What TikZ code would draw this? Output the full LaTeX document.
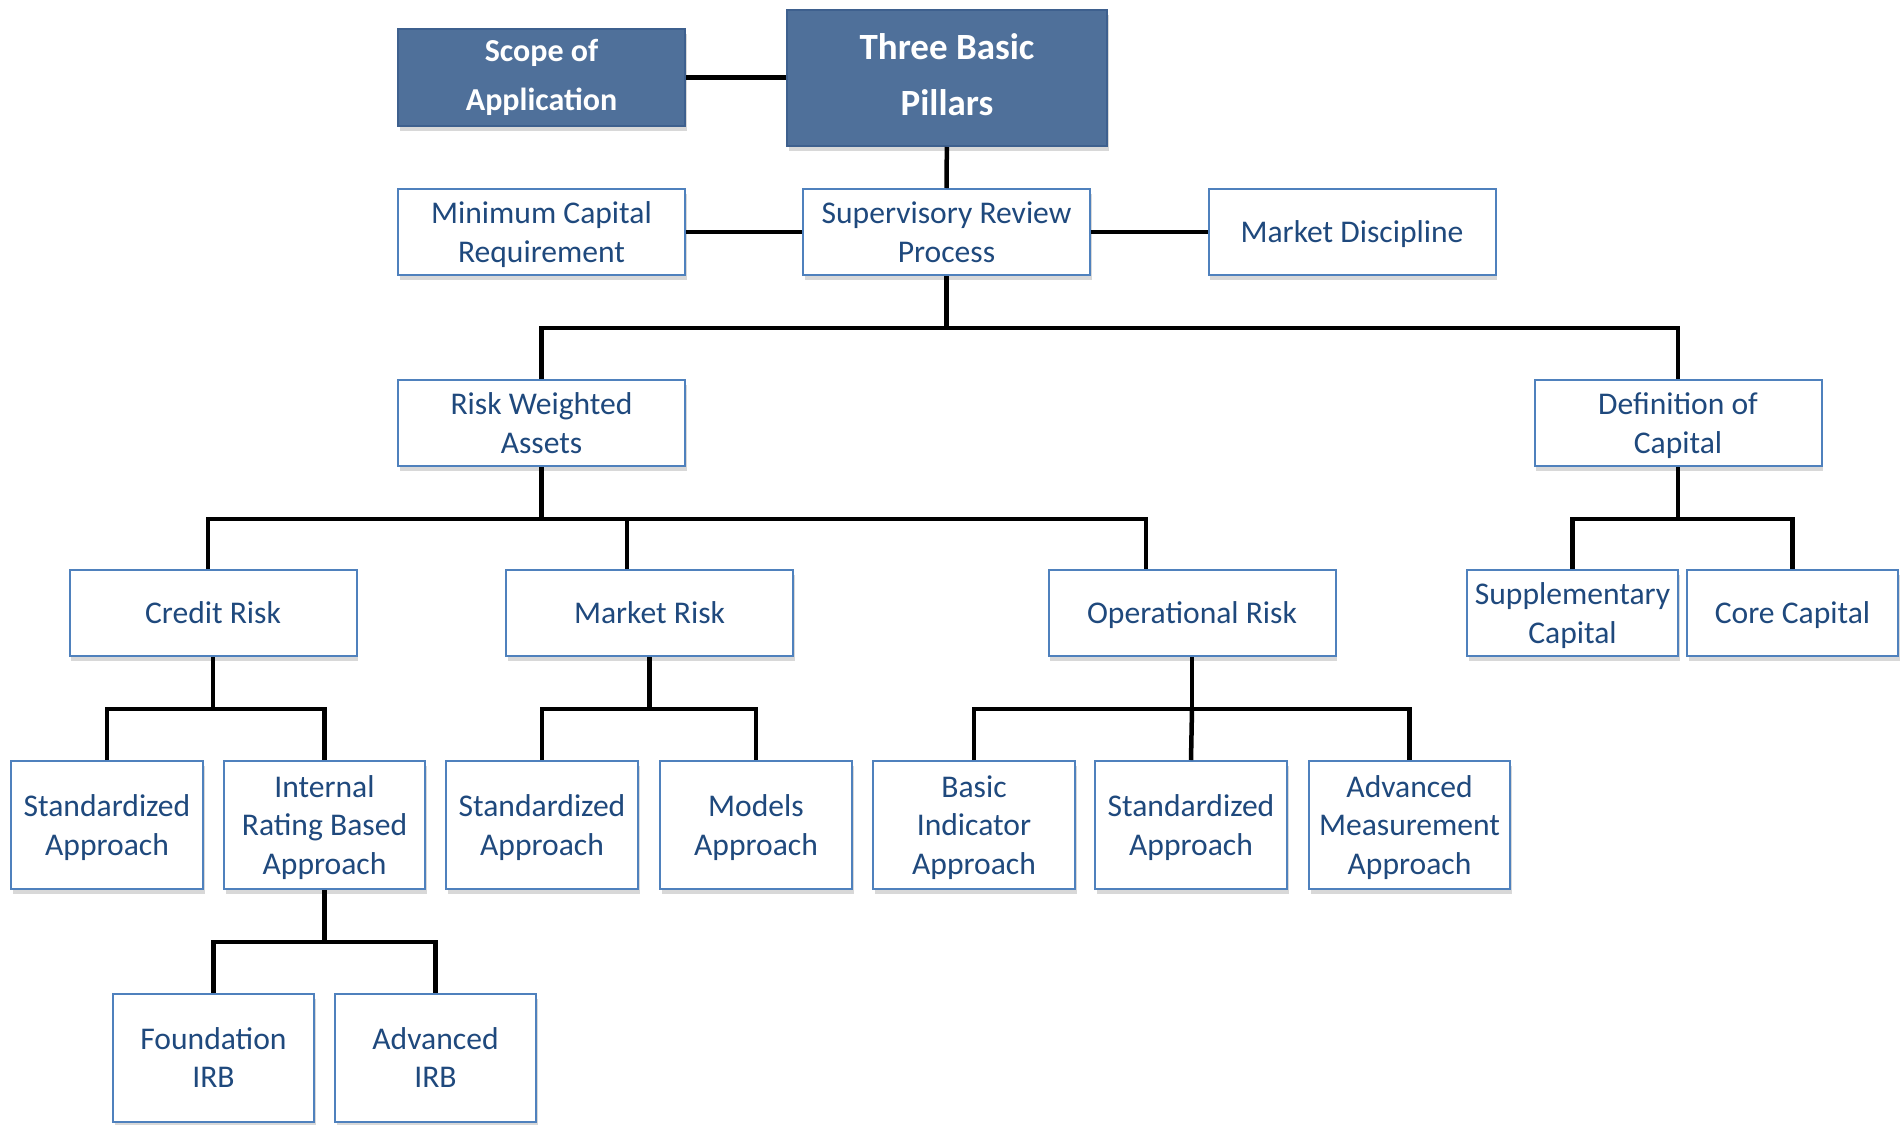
\documentclass[tikz,border=0pt]{standalone}
\usepackage{fontspec}
\setmainfont{Carlito}
\usetikzlibrary{positioning,shadows}
\definecolor{txtblue}{RGB}{31,73,125}
\definecolor{edgeblue}{RGB}{79,129,189}
\definecolor{pillarfill}{RGB}{79,112,154}
\definecolor{pillarline}{RGB}{62,96,142}
\tikzset{
cell/.style={draw=edgeblue, line width=2pt, fill=white, text=txtblue, align=center,
  inner sep=0pt, minimum width=287pt, minimum height=86pt,
  drop shadow={shadow xshift=1.5pt, shadow yshift=-5pt, opacity=0.22, fill=black!70}},
box/.style={cell, font=\fontsize{31.6}{38.6}\selectfont,
  execute at begin node={\rule{0pt}{\dimexpr38.6pt*#1+30.1pt\relax}},
  execute at end node={\rule[-8.5pt]{0pt}{8.5pt}}},
box/.default=0,
tallbox/.style={box=#1, minimum height=128pt},
tallbox/.default=1,
pillar/.style={cell, draw=pillarline, fill=pillarfill, text=white,
  font=\bfseries\fontsize{32}{48.5}\selectfont},
wire/.style={line width=4.5pt, draw=black},
}

\begin{document}
\begin{tikzpicture}[x=1pt, y=-1pt]
        \useasboundingbox (0,0) rectangle (1902,1124);
        \node[pillar, minimum height=97pt] (scope) at (541.5,77.5) {Scope of\\Application};
        \node[pillar, minimum width=320pt, minimum height=136pt,
          font=\bfseries\fontsize{37}{56}\selectfont,
          execute at end node={\rule[-7.2pt]{0pt}{7.2pt}}] (pillars) at (947,78) {Three Basic\\Pillars};
        \node[box=1] (mincap) at (541.5,232) {Minimum Capital\\Requirement};
        \node[box=1] (srp) at (946.5,232) {Supervisory Review\\Process};
        \node[box] (mdisc) at (1352,232) {Market Discipline};
        \node[box=1] (rwa) at (541.5,423) {Risk Weighted\\Assets};
        \node[box=1] (defcap) at (1678,423) {Definition of\\Capital};
        \node[box] (credit) at (213,613) {Credit Risk};
        \node[box] (market) at (649.5,613) {Market Risk};
        \node[box] (oprisk) at (1192,613) {Operational Risk};
        \node[box=1, minimum width=211pt] (suppcap) at (1572.5,613) {Supplementary\\Capital};
        \node[box, minimum width=211pt, right=7pt of suppcap] (corecap) {Core Capital};
        \node[tallbox, minimum width=192pt] (stdcr) at (107,825) {Standardized\\Approach};
        \node[tallbox=2, minimum width=201pt] (irb) at (324.5,825) {Internal\\Rating Based\\Approach};
        \node[tallbox, minimum width=192pt] (stdmr) at (542,825) {Standardized\\Approach};
        \node[tallbox, minimum width=192pt] (models) at (756,825) {Models\\Approach};
        \node[tallbox=2, minimum width=202pt] (bia) at (974,825) {Basic\\Indicator\\Approach};
        \node[tallbox, minimum width=192pt] (stdop) at (1191,825) {Standardized\\Approach};
        \node[tallbox=2, minimum width=201pt] (ama) at (1409.5,825) {Advanced\\Measurement\\Approach};
        \node[tallbox, minimum width=201pt] (firb) at (213.5,1057.5) {Foundation\\IRB};
        \node[tallbox, minimum width=201pt] (airb) at (435.5,1057.5) {Advanced\\IRB};

        \draw[wire] (scope.east) -- (scope.east -| pillars.west);
        \draw[wire] (pillars) -- (srp);
        \draw[wire] (mincap) -- (srp);
        \draw[wire] (srp) -- (mdisc);
        \draw[wire] (srp.south) -- ++(0,52) coordinate (srpbus);
        \draw[wire] (rwa.north) |- (srpbus) -| (defcap.north);
        \draw[wire] (rwa.south) -- ++(0,52) coordinate (rwabus);
        \draw[wire] ([xshift=-5pt]credit.north) |- (rwabus) -| ([xshift=-46pt]oprisk.north);
        \draw[wire] ([xshift=-22.5pt]market.north) -- ++(0,-52);
        \draw[wire] (defcap.south) -- ++(0,52) coordinate (defbus);
        \draw[wire] (suppcap.north) |- (defbus) -| (corecap.north);
        \draw[wire] (credit.south) -- ++(0,52) coordinate (crbus);
        \draw[wire] (stdcr.north) |- (crbus) -| (irb.north);
        \draw[wire] (market.south) -- ++(0,52) coordinate (mrbus);
        \draw[wire] (stdmr.north) |- (mrbus) -| (models.north);
        \draw[wire] (oprisk.south) -- ++(0,52) coordinate (opbus);
        \draw[wire] (bia.north) |- (opbus) -| (ama.north);
        \draw[wire] (opbus) -- (stdop.north);
        \draw[wire] (irb.south) -- ++(0,52) coordinate (irbbus);
        \draw[wire] (firb.north) |- (irbbus) -| (airb.north);
\end{tikzpicture}
\end{document}
